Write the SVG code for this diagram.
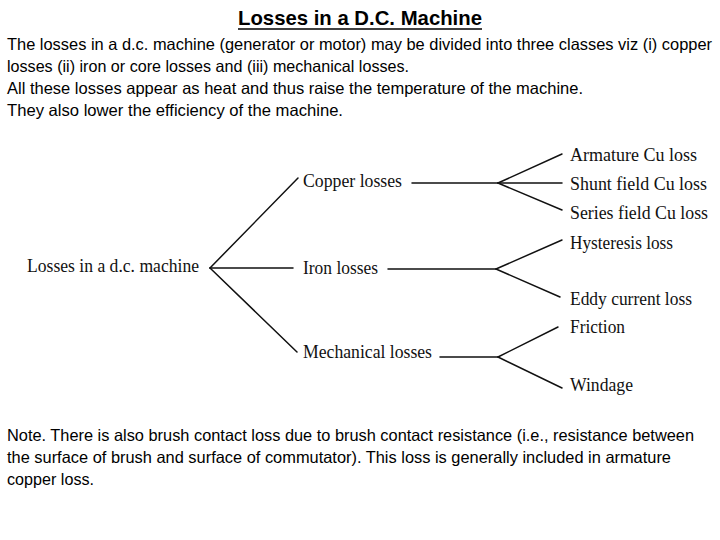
<svg xmlns="http://www.w3.org/2000/svg" width="720" height="540" viewBox="0 0 720 540">
<style>
.body{font-family:"Liberation Sans","Noto Sans",sans-serif;font-size:16.5px;fill:#000}
.title{font-family:"Liberation Sans","Noto Sans",sans-serif;font-size:21px;font-weight:bold;fill:#000}
.lbl{font-family:"Liberation Serif","DejaVu Serif",serif;font-size:18px;fill:#111}
.conn path{fill:none;stroke:#111;stroke-width:1.5;stroke-linecap:round}
</style>
<rect width="720" height="540" fill="#fff"/>
<g id="title">
<text class="title" x="238" y="25" textLength="244" lengthAdjust="spacingAndGlyphs">Losses in a D.C. Machine</text>
<line x1="238" y1="29" x2="482" y2="29" stroke="#000" stroke-width="1.6"/>
</g>
<g id="intro">
<text class="body" x="7" y="50" textLength="705" lengthAdjust="spacingAndGlyphs">The losses in a d.c. machine (generator or motor) may be divided into three classes viz (i) copper</text>
<text class="body" x="7" y="72" textLength="402" lengthAdjust="spacingAndGlyphs">losses (ii) iron or core losses and (iii) mechanical losses.</text>
<text class="body" x="7" y="94" textLength="576" lengthAdjust="spacingAndGlyphs">All these losses appear as heat and thus raise the temperature of the machine.</text>
<text class="body" x="7" y="116" textLength="336" lengthAdjust="spacingAndGlyphs">They also lower the efficiency of the machine.</text>
</g>
<g class="conn" id="connectors">
<path d="M210,268 L298,178"/>
<path d="M210,268 L293,268"/>
<path d="M210,268 L297,352"/>
<path d="M412,183 L498,183"/>
<path d="M498,183 L562,154"/>
<path d="M498,183 L562,183"/>
<path d="M498,183 L562,210"/>
<path d="M388,269 L496,269"/>
<path d="M496,269 L562,240"/>
<path d="M496,269 L560,297"/>
<path d="M440,357 L498,357"/>
<path d="M498,357 L558,327"/>
<path d="M498,357 L562,388"/>
</g>
<g id="root"><text class="lbl" x="27" y="272" textLength="172" lengthAdjust="spacingAndGlyphs">Losses in a d.c. machine</text></g>
<g id="copper"><text class="lbl" x="303" y="187" textLength="99" lengthAdjust="spacingAndGlyphs">Copper losses</text></g>
<g id="iron"><text class="lbl" x="303" y="274" textLength="75" lengthAdjust="spacingAndGlyphs">Iron losses</text></g>
<g id="mechanical"><text class="lbl" x="303" y="358" textLength="129" lengthAdjust="spacingAndGlyphs">Mechanical losses</text></g>
<g id="armature"><text class="lbl" x="570" y="161" textLength="127" lengthAdjust="spacingAndGlyphs">Armature Cu loss</text></g>
<g id="shunt"><text class="lbl" x="570" y="190" textLength="137" lengthAdjust="spacingAndGlyphs">Shunt field Cu loss</text></g>
<g id="series"><text class="lbl" x="570" y="219" textLength="138" lengthAdjust="spacingAndGlyphs">Series field Cu loss</text></g>
<g id="hysteresis"><text class="lbl" x="570" y="249" textLength="103" lengthAdjust="spacingAndGlyphs">Hysteresis loss</text></g>
<g id="eddy"><text class="lbl" x="570" y="305" textLength="122" lengthAdjust="spacingAndGlyphs">Eddy current loss</text></g>
<g id="friction"><text class="lbl" x="570" y="333" textLength="55" lengthAdjust="spacingAndGlyphs">Friction</text></g>
<g id="windage"><text class="lbl" x="570" y="391" textLength="63" lengthAdjust="spacingAndGlyphs">Windage</text></g>
<g id="note">
<text class="body" x="7" y="441" textLength="687" lengthAdjust="spacingAndGlyphs">Note. There is also brush contact loss due to brush contact resistance (i.e., resistance between</text>
<text class="body" x="7" y="463" textLength="664" lengthAdjust="spacingAndGlyphs">the surface of brush and surface of commutator). This loss is generally included in armature</text>
<text class="body" x="7" y="485" textLength="87" lengthAdjust="spacingAndGlyphs">copper loss.</text>
</g>
</svg>
